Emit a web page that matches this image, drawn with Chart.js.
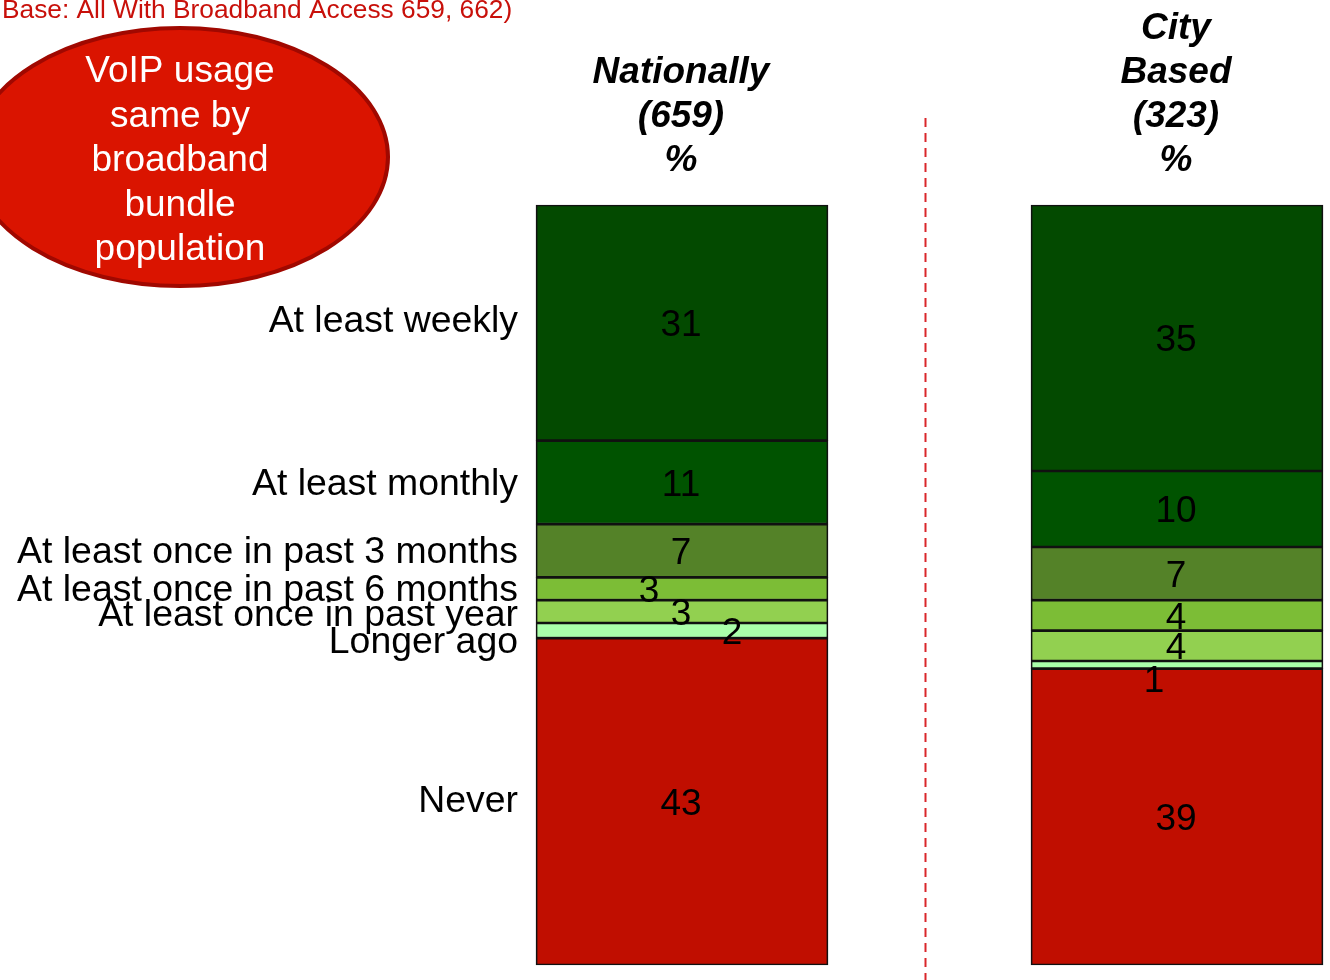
<!DOCTYPE html>
<html>
<head>
<meta charset="utf-8">
<script src="https://cdn.jsdelivr.net/npm/chart.js@4.4.1/dist/chart.umd.min.js"></script>
<style>
  body { margin: 0; background: #fff; }
</style>
</head>
<body>
<canvas id="myChart" width="1330" height="980"></canvas>
<script>
// data
const categories = ["Nationally", "City Based"];
const sampleSizes = ["(659)", "(323)"];
const frequencies = [
  "At least weekly",
  "At least monthly",
  "At least once in past 3 months",
  "At least once in past 6 months",
  "At least once in past year",
  "Longer ago",
  "Never"
];
const atLeastWeekly = [31, 35];
const atLeastMonthly = [11, 10];
const past3Months = [7, 7];
const past6Months = [3, 4];
const pastYear = [3, 4];
const longerAgo = [2, 1];
const never = [43, 39];

const baseNote = "Base: All With Broadband Access 659, 662)";
const bubbleLines = ["VoIP usage", "same by", "broadband", "bundle", "population"];

// colours per frequency (top to bottom)
const colors = ["#034a00", "#005300", "#548228", "#7cbd36", "#92d050", "#aaffaa", "#c00e00"];

const seriesValues = [atLeastWeekly, atLeastMonthly, past3Months, past6Months, pastYear, longerAgo, never];

// stacked bottom-up, so "Never" goes first
const datasets = [];
for (let i = seriesValues.length - 1; i >= 0; i--) {
  datasets.push({
    label: frequencies[i],
    data: seriesValues[i],
    backgroundColor: colors[i],
    borderColor: "#111",
    borderWidth: 1.7,
    borderSkipped: false,
    barThickness: 292,
    clip: false
  });
}

const FONT = "'Liberation Sans', Arial, sans-serif";

// small nudges so crowded numbers don't sit on top of each other
const valueNudge = {
  "0-At least once in past 6 months": [-32, 0],
  "0-Longer ago": [51, 0],
  "1-Longer ago": [-22, 14]
};
const labelNudge = { "At least once in past year": 2, "Longer ago": 10, "At least weekly": -3, "Never": -2 };

const drawExtras = {
  id: "drawExtras",
  afterDatasetsDraw(chart) {
    const ctx = chart.ctx;
    const area = chart.chartArea;
    ctx.save();

    // numbers inside the bars
    ctx.font = "37px " + FONT;
    ctx.fillStyle = "#000";
    ctx.textAlign = "center";
    ctx.textBaseline = "middle";
    chart.data.datasets.forEach((ds, di) => {
      const meta = chart.getDatasetMeta(di);
      meta.data.forEach((bar, i) => {
        const n = valueNudge[i + "-" + ds.label] || [0, 0];
        const cy = (bar.y + bar.base) / 2;
        ctx.fillText(String(ds.data[i]), bar.x - 1 + n[0], cy + n[1] + 3);
      });
    });

    // category labels left of the first bar
    ctx.font = "37.4px " + FONT;
    ctx.textAlign = "right";
    chart.data.datasets.forEach((ds, di) => {
      const bar = chart.getDatasetMeta(di).data[0];
      const cy = (bar.y + bar.base) / 2 + (labelNudge[ds.label] || 0);
      ctx.fillText(ds.label, bar.x - bar.width / 2 - 18, cy + 2);
    });

    // column headers
    ctx.font = "italic bold 37px " + FONT;
    ctx.textAlign = "center";
    const x0 = chart.getDatasetMeta(0).data;
    categories.forEach((c, i) => {
      const lines = i === 0 ? [c, sampleSizes[i], "%"] : c.split(" ").concat([sampleSizes[i], "%"]);
      for (let k = 0; k < lines.length; k++) {
        const y = area.top - 44 - (lines.length - 1 - k) * 44;
        ctx.fillText(lines[k], x0[i].x - 1, y);
      }
    });

    // dashed divider between the two bars
    const midX = (x0[0].x + x0[1].x) / 2 - 4;
    ctx.strokeStyle = "#d9262b";
    ctx.lineWidth = 2;
    ctx.setLineDash([9, 6]);
    ctx.beginPath();
    ctx.moveTo(midX, 118);
    ctx.lineTo(midX, chart.height);
    ctx.stroke();
    ctx.setLineDash([]);

    // base note
    ctx.font = "26.3px " + FONT;
    ctx.fillStyle = "#c8100a";
    ctx.textAlign = "left";
    ctx.textBaseline = "alphabetic";
    ctx.fillText(baseNote, 2, 18);

    // red bubble
    ctx.beginPath();
    ctx.ellipse(180, 157, 208, 129, 0, 0, Math.PI * 2);
    ctx.fillStyle = "#da1400";
    ctx.fill();
    ctx.lineWidth = 4;
    ctx.strokeStyle = "#a00800";
    ctx.stroke();
    ctx.font = "37px " + FONT;
    ctx.fillStyle = "#fff";
    ctx.textAlign = "center";
    ctx.textBaseline = "middle";
    bubbleLines.forEach((t, k) => ctx.fillText(t, 180, 72 + k * 44.5));

    ctx.restore();
  }
};

new Chart(document.getElementById("myChart"), {
  type: "bar",
  data: { labels: categories, datasets: datasets },
  options: {
    responsive: false,
    animation: false,
    layout: { padding: { left: 682, right: 153, top: 205, bottom: 15 } },
    plugins: { legend: { display: false }, tooltip: { enabled: false } },
    scales: {
      x: { stacked: true, display: false, offset: false },
      y: { stacked: true, display: false, min: 0, max: 100 }
    }
  },
  plugins: [drawExtras]
});
</script>
</body>
</html>
